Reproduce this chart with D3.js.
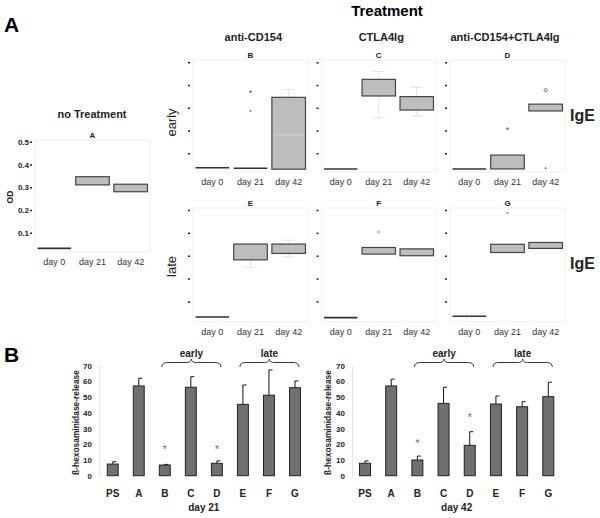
<!DOCTYPE html>
<html>
  <head>
    <meta http-equiv="Content-Type" content="text/html;charset=utf-8">
    <title>IgE and beta-hexosaminidase release</title>
    <script type="text/javascript" src="https://d3js.org/d3.v7.min.js"></script>
    <style>
      html, body { margin: 0; padding: 0; background: #fff; }
      text { font-family: "Liberation Sans", Arial, sans-serif; }
      .tick line { stroke: #222; stroke-width: 1.5px; }
      .odaxis .tick text { font-size: 8px; font-weight: bold; fill: #222; }
      .baxis .tick text { font-size: 8px; font-weight: bold; fill: #222; }
    </style>
  </head>
  <body>
  <script type="text/javascript">

// ---- part A: IgE OD boxes ----
var days = ["day 0", "day 21", "day 42"];
var odTicks = [0.1, 0.2, 0.3, 0.4, 0.5];

// [low, high] of each box, one per day
var boxA = [[0.031, 0.031], [0.310, 0.346], [0.280, 0.313]];
var boxB = [[0.036, 0.036], [0.034, 0.034], [0.030, 0.346]];
var boxC = [[0.031, 0.031], [0.352, 0.425], [0.290, 0.349]];
var boxD = [[0.031, 0.031], [0.031, 0.092], [0.286, 0.316]];
var boxE = [[0.032, 0.032], [0.282, 0.351], [0.310, 0.351]];
var boxF = [[0.029, 0.029], [0.307, 0.336], [0.300, 0.330]];
var boxG = [[0.035, 0.035], [0.314, 0.350], [0.332, 0.358]];

// faint whiskers: panel, day, low, high
var whiskers = [
  ["B", "day 42", 0.346, 0.380],
  ["C", "day 21", 0.256, 0.459],
  ["C", "day 42", 0.264, 0.390],
  ["E", "day 21", 0.249, 0.282],
  ["E", "day 42", 0.295, 0.368]
];
var medians = [["B", "day 42", 0.180]];

// outliers: panel, day, value, kind
var outliers = [
  ["B", "day 21", 0.368, "star"],
  ["B", "day 21", 0.286, "dot"],
  ["C", "day 0", 0.031, "dot"],
  ["D", "day 21", 0.208, "star"],
  ["D", "day 42", 0.377, "circle"],
  ["D", "day 42", 0.034, "dot"],
  ["F", "day 21", 0.404, "grey"],
  ["G", "day 21", 0.487, "dot"],
  ["G", "day 0", 0.035, "dot"]
];

// ---- part B: beta-hexosaminidase release ----
var groups = ["PS", "A", "B", "C", "D", "E", "F", "G"];
var release21 = [7.4, 57.1, 6.8, 56.3, 7.9, 45.4, 51.2, 56.0];
var sd21 = [1.5, 4.9, 0.4, 6.7, 1.5, 12.3, 16.1, 4.3];
var release42 = [7.9, 57.1, 10.0, 46.0, 19.3, 45.6, 43.9, 50.3];
var sd42 = [1.5, 4.3, 2.5, 10.3, 8.7, 5.1, 3.2, 9.2];
var stars21 = [["B", 17.4], ["D", 17.4]];
var stars42 = [["B", 21.2], ["D", 38.2]];
var releaseTicks = [0, 10, 20, 30, 40, 50, 60, 70];

var svg = d3.select("body").append("svg").attr("width", 600).attr("height", 518);

svg.append("text").attr("x", 4).attr("y", 32).attr("font-size", 21).attr("font-weight", "bold").text("A");
svg.append("text").attr("x", 387).attr("y", 16).attr("font-size", 15).attr("font-weight", "bold")
  .attr("text-anchor", "middle").text("Treatment");

var panels = [
  {id: "A", data: boxA, x0: 35, x1: 150, top: 140, bottom: 252, y0: 255.4, y5: 141.7},
  {id: "B", data: boxB, x0: 193, x1: 308, top: 60, bottom: 172, y0: 176, y5: 62.3},
  {id: "C", data: boxC, x0: 321.5, x1: 436, top: 60, bottom: 172, y0: 176, y5: 62.3},
  {id: "D", data: boxD, x0: 450, x1: 565, top: 60, bottom: 172, y0: 176, y5: 62.3},
  {id: "E", data: boxE, x0: 193, x1: 308, top: 208, bottom: 321.5, y0: 324.3, y5: 210},
  {id: "F", data: boxF, x0: 321.5, x1: 436, top: 208, bottom: 321.5, y0: 324.3, y5: 210},
  {id: "G", data: boxG, x0: 450, x1: 565, top: 208, bottom: 321.5, y0: 324.3, y5: 210}
];

var labelLayer = [];

panels.forEach(function(p) {
  var x = d3.scaleBand().domain(days).range([p.x0 + 1, p.x1 - 1]).paddingInner(0.12).paddingOuter(0.04);
  var y = d3.scaleLinear().domain([0, 0.5]).range([p.y0, p.y5]);
  var g = svg.append("g");

  g.append("rect").attr("x", p.x0).attr("y", p.top).attr("width", p.x1 - p.x0).attr("height", p.bottom - p.top)
    .attr("fill", "none").attr("stroke", "#f0f0f0");

  g.append("text").attr("x", (p.x0 + p.x1) / 2).attr("y", p.top - 2.5).attr("text-anchor", "middle")
    .attr("font-size", 8).attr("font-weight", "bold").attr("fill", "#222").text(p.id);

  var axis = d3.axisLeft(y).tickValues(odTicks).tickSize(2);
  if (p.id == "A") {
    axis.tickFormat(d3.format(".1f")).tickPadding(1);
  } else {
    axis.tickFormat("");
  }
  var ag = g.append("g").attr("class", "odaxis").attr("transform", "translate(" + (p.x0 - 3) + ",0)").call(axis);
  ag.select(".domain").remove();

  whiskers.filter(function(w) { return w[0] == p.id; }).forEach(function(w) {
    var cx = x(w[1]) + x.bandwidth() / 2;
    g.append("line").attr("x1", cx).attr("x2", cx).attr("y1", y(w[2])).attr("y2", y(w[3]))
      .attr("stroke", "#e2e2e2");
    [w[2], w[3]].forEach(function(v) {
      g.append("line").attr("x1", cx - 6).attr("x2", cx + 6).attr("y1", y(v)).attr("y2", y(v)).attr("stroke", "#e2e2e2");
    });
  });

  p.data.forEach(function(b, i) {
    var d = days[i];
    if (b[1] - b[0] < 0.005) {
      g.append("line").attr("x1", x(d)).attr("x2", x(d) + x.bandwidth())
        .attr("y1", y(b[0])).attr("y2", y(b[0])).attr("stroke", "#333").attr("stroke-width", 1.6);
    } else {
      g.append("rect").attr("x", x(d)).attr("width", x.bandwidth())
        .attr("y", y(b[1])).attr("height", y(b[0]) - y(b[1]))
        .attr("fill", "#bdbdbd").attr("stroke", "#444").attr("stroke-width", 1.2);
    }
  });

  medians.filter(function(m) { return m[0] == p.id; }).forEach(function(m) {
    g.append("line").attr("x1", x(m[1]) + 1).attr("x2", x(m[1]) + x.bandwidth() - 1)
      .attr("y1", y(m[2])).attr("y2", y(m[2])).attr("stroke", "#cfcfcf");
  });

  outliers.filter(function(o) { return o[0] == p.id; }).forEach(function(o) {
    var cx = x(o[1]) + x.bandwidth() / 2, cy = y(o[2]);
    if (o[3] == "star") {
      g.append("text").attr("x", cx).attr("y", cy + 4).attr("text-anchor", "middle")
        .attr("font-size", 9).attr("fill", "#555").text("*");
    } else if (o[3] == "circle") {
      g.append("circle").attr("cx", cx).attr("cy", cy).attr("r", 1.6).attr("fill", "none").attr("stroke", "#777");
    } else if (o[3] == "grey") {
      g.append("circle").attr("cx", cx).attr("cy", cy).attr("r", 1.8).attr("fill", "#c8c8c8");
    } else {
      g.append("circle").attr("cx", cx).attr("cy", cy).attr("r", 0.9).attr("fill", "#666");
    }
  });

  // day labels are drawn last, on top of everything
  days.forEach(function(d) {
    labelLayer.push({text: d, x: x(d) + x.bandwidth() / 2, y: p.bottom + 13});
  });
});

// column / row titles
svg.append("text").attr("x", 92).attr("y", 118).attr("text-anchor", "middle").attr("font-size", 11)
  .attr("font-weight", "bold").attr("fill", "#222").text("no Treatment");
[["anti-CD154", 253.3], ["CTLA4Ig", 381.3], ["anti-CD154+CTLA4Ig", 505]].forEach(function(t) {
  svg.append("text").attr("x", t[1]).attr("y", 40.5).attr("text-anchor", "middle").attr("font-size", 11)
    .attr("font-weight", "bold").attr("fill", "#222").text(t[0]);
});
[["early", 122.5], ["late", 266.5]].forEach(function(t) {
  svg.append("text").attr("transform", "translate(176," + t[1] + ") rotate(-90)").attr("text-anchor", "middle")
    .attr("font-size", 13).attr("fill", "#222").text(t[0]);
});
[121, 268.5].forEach(function(yy) {
  svg.append("text").attr("x", 570).attr("y", yy).attr("font-size", 16).attr("font-weight", "bold")
    .attr("fill", "#222").text("IgE");
});
svg.append("text").attr("transform", "translate(13,197) rotate(-90)").attr("text-anchor", "middle")
  .attr("font-size", 8.5).attr("font-weight", "bold").attr("fill", "#222").text("OD");

// ---- part B ----
svg.append("text").attr("x", 4).attr("y", 362).attr("font-size", 21).attr("font-weight", "bold").text("B");

var yB = d3.scaleLinear().domain([0, 70]).range([475.7, 365.7]);

var barCharts = [
  {vals: release21, sd: sd21, stars: stars21, label: "day 21", x0: 99.7, x1: 308, axisX: 99, ylab: 78.5},
  {vals: release42, sd: sd42, stars: stars42, label: "day 42", x0: 351.9, x1: 561.4, axisX: 352, ylab: 330.5}
];

barCharts.forEach(function(c) {
  var x = d3.scaleBand().domain(groups).range([c.x0, c.x1]).paddingInner(0.58).paddingOuter(0.29);
  var g = svg.append("g");

  var ax = g.append("g").attr("class", "baxis").attr("transform", "translate(" + c.axisX + ",0)")
    .call(d3.axisLeft(yB).tickValues(releaseTicks).tickSize(0).tickPadding(7));
  ax.select(".domain").attr("stroke", "#e6e6e6");

  groups.forEach(function(k, i) {
    var cx = x(k) + x.bandwidth() / 2;
    var top = yB(c.vals[i] + c.sd[i]);
    g.append("line").attr("x1", cx).attr("x2", cx).attr("y1", yB(c.vals[i])).attr("y2", top).attr("stroke", "#111");
    g.append("line").attr("x1", cx).attr("x2", cx + 3.5).attr("y1", top).attr("y2", top).attr("stroke", "#111");
    g.append("rect").attr("x", x(k)).attr("width", x.bandwidth())
      .attr("y", yB(c.vals[i])).attr("height", yB(0) - yB(c.vals[i]))
      .attr("fill", "#707070").attr("stroke", "#222").attr("stroke-width", 1);
    g.append("text").attr("x", cx).attr("y", 496.5).attr("text-anchor", "middle").attr("font-size", 10)
      .attr("font-weight", "bold").attr("fill", "#222").text(k);
  });

  c.stars.forEach(function(s) {
    g.append("text").attr("x", x(s[0]) + x.bandwidth() / 2).attr("y", yB(s[1]) + 5).attr("text-anchor", "middle")
      .attr("font-size", 10).attr("fill", "#666").text("*");
  });

  // braces over early (B-D) and late (E-G)
  [["early", "B", "D"], ["late", "E", "G"]].forEach(function(b) {
    var a = x(b[1]) + x.bandwidth() / 2 - 3, e = x(b[2]) + x.bandwidth() / 2 + 4, m = (a + e) / 2;
    var yb = 367, yl = 362.5, yt = 359;
    var path = "M" + a + "," + yb + " Q" + a + "," + yl + " " + (a + 6) + "," + yl +
      " L" + (m - 5) + "," + yl + " Q" + m + "," + yl + " " + m + "," + yt +
      " Q" + m + "," + yl + " " + (m + 5) + "," + yl +
      " L" + (e - 6) + "," + yl + " Q" + e + "," + yl + " " + e + "," + yb;
    g.append("path").attr("d", path).attr("fill", "none").attr("stroke", "#333").attr("stroke-width", 1);
    g.append("text").attr("x", m).attr("y", 356.5).attr("text-anchor", "middle").attr("font-size", 10)
      .attr("font-weight", "bold").attr("fill", "#222").text(b[0]);
  });

  g.append("text").attr("x", (c.x0 + c.x1) / 2).attr("y", 511).attr("text-anchor", "middle").attr("font-size", 10)
    .attr("font-weight", "bold").attr("fill", "#222").text(c.label);

  g.append("text").attr("transform", "translate(" + c.ylab + ",422.5) rotate(-90)").attr("text-anchor", "middle")
    .attr("font-size", 8.4).attr("font-weight", "bold").attr("fill", "#222").text("ß-hexosaminidase-release");
});

svg.append("g").selectAll("text").data(labelLayer).join("text")
  .attr("x", function(d) { return d.x; })
  .attr("y", function(d) { return d.y; })
  .attr("text-anchor", "middle").attr("font-size", 9).attr("fill", "#333")
  .text(function(d) { return d.text; });

  </script>
  </body>
</html>
